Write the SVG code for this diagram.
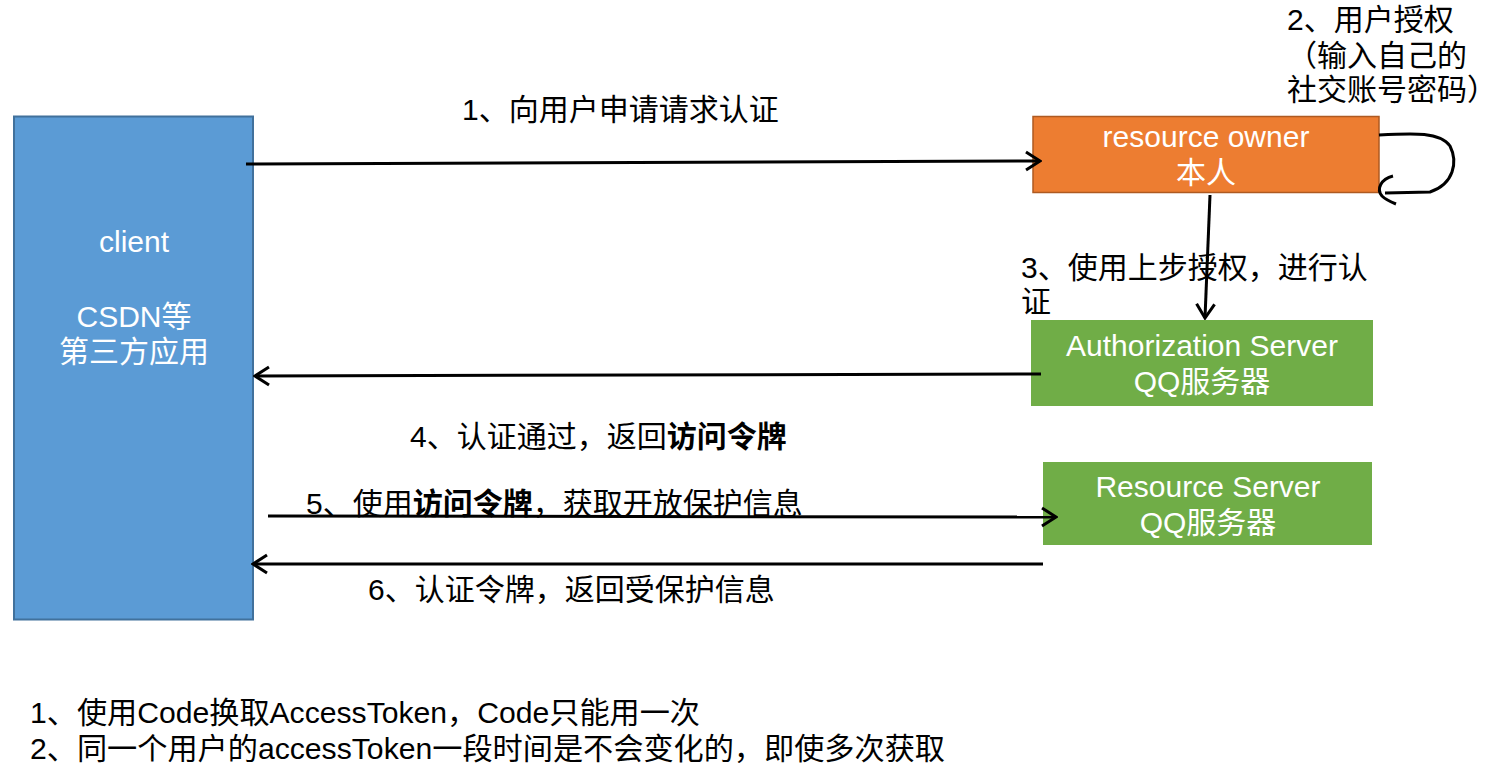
<svg xmlns="http://www.w3.org/2000/svg" width="1511" height="773" viewBox="0 0 1511 773">
<style>
text{font-family:"Liberation Sans","Noto Sans CJK SC",sans-serif;font-size:30px}
.w{fill:#fff;text-anchor:middle}
.k{fill:#000}
.b{font-weight:bold}
.ln{stroke:#000;stroke-width:3;fill:none}
</style>
<defs>
<marker id="ah" viewBox="-17 -11 19 22" refX="0" refY="0" markerWidth="19" markerHeight="22" markerUnits="userSpaceOnUse" orient="auto">
<path d="M-14,-9 L0,0 L-14,9" fill="none" stroke="#000" stroke-width="3"/>
</marker>
</defs>
<rect width="1511" height="773" fill="#fff"/>
<g id="client">
<rect x="14" y="116.5" width="239" height="503" fill="#5b9bd5" stroke="#41719c" stroke-width="2"/>
<text class="w" x="134" y="252">client</text>
<text class="w" x="134" y="327">CSDN等</text>
<text class="w" x="134" y="362">第三方应用</text>
</g>
<g id="resource-owner">
<rect x="1033" y="116.5" width="346" height="76" fill="#ed7d31" stroke="#ae5a21" stroke-width="1.5"/>
<text class="w" x="1206" y="147">resource owner</text>
<text class="w" x="1206" y="183">本人</text>
</g>
<g id="authorization-server">
<rect x="1031" y="320" width="342" height="86" fill="#70ad47"/>
<text class="w" x="1202" y="356">Authorization Server</text>
<text class="w" x="1202" y="392">QQ服务器</text>
</g>
<g id="resource-server">
<rect x="1043" y="462" width="329" height="83" fill="#70ad47"/>
<text class="w" x="1208" y="497">Resource Server</text>
<text class="w" x="1208" y="533">QQ服务器</text>
</g>
<g id="connectors">
<line class="ln" x1="246" y1="164" x2="1040" y2="161" marker-end="url(#ah)"/>
<path class="ln" d="M1379,135 C1415,133 1440,132 1450,146 C1458,162 1454,184 1430,192 L1385,193"/>
<path class="ln" d="M1393,176 C1381,179 1376,189 1382,196 C1386,200 1391,202 1396,204"/>
<line class="ln" x1="1210" y1="195" x2="1205" y2="318" marker-end="url(#ah)"/>
<line class="ln" x1="1041" y1="374" x2="255" y2="376" marker-end="url(#ah)"/>
<line class="ln" x1="268" y1="516" x2="1056" y2="517" marker-end="url(#ah)"/>
<line class="ln" x1="1043" y1="564" x2="253" y2="564" marker-end="url(#ah)"/>
</g>
<g id="labels">
<text class="k" x="462" y="120">1、向用户申请请求认证</text>
<text class="k" x="1287" y="30">2、用户授权</text>
<text class="k" x="1287" y="66">（输入自己的</text>
<text class="k" x="1287" y="100">社交账号密码）</text>
<text class="k" x="1021" y="278">3、使用上步授权，进行认</text>
<text class="k" x="1021" y="312">证</text>
<text class="k" x="410" y="447">4、认证通过，返回<tspan class="b">访问令牌</tspan></text>
<text class="k" x="306" y="514">5、使用<tspan class="b">访问令牌</tspan>，获取开放保护信息</text>
<text class="k" x="368" y="600">6、认证令牌，返回受保护信息</text>
<text class="k" x="30" y="723" textLength="670" lengthAdjust="spacingAndGlyphs">1、使用Code换取AccessToken，Code只能用一次</text>
<text class="k" x="30" y="759" textLength="915" lengthAdjust="spacingAndGlyphs">2、同一个用户的accessToken一段时间是不会变化的，即使多次获取</text>
</g>
</svg>
